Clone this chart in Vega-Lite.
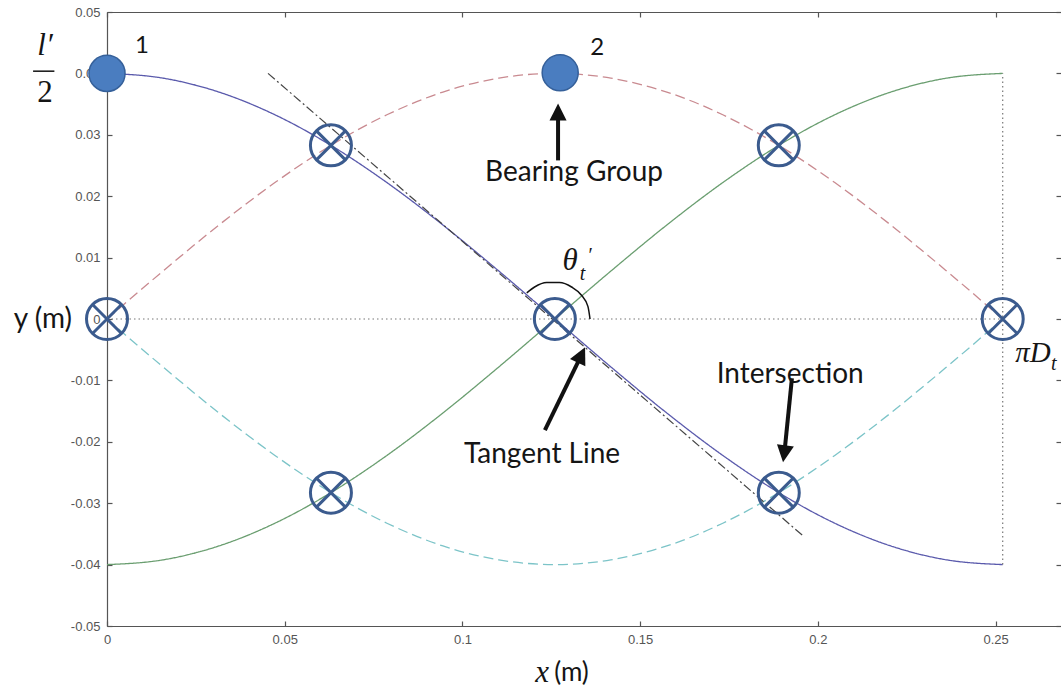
{
  "$schema": "https://vega.github.io/schema/vega-lite/v6.json",
  "autosize": {"type": "none"},
  "padding": {"left": 107, "top": 12, "right": 0, "bottom": 69},
  "width": 954,
  "height": 614,
  "background": "white",
  "config": {
    "view": {"stroke": null},
    "axis": {
      "grid": false, "domainColor": "#555", "domainWidth": 1.2, "tickColor": "#555", "tickWidth": 1.2,
      "tickSize": -5, "labelFont": "Liberation Sans", "labelFontSize": 13, "labelColor": "#555",
      "labelFlush": false, "labelOverlap": false
    }
  },
  "layer": [
    {
      "data": {"values": [
        {"s": "blue", "x": 0, "y": 0.04}, {"s": "blue", "x": 0.01575, "y": 0.03923}, {"s": "blue", "x": 0.0315, "y": 0.03696}, {"s": "blue", "x": 0.04725, "y": 0.03326}, {"s": "blue", "x": 0.063, "y": 0.02828}, {"s": "blue", "x": 0.07875, "y": 0.02222}, {"s": "blue", "x": 0.0945, "y": 0.01531}, {"s": "blue", "x": 0.11025, "y": 0.0078}, {"s": "blue", "x": 0.126, "y": 0}, {"s": "blue", "x": 0.14175, "y": -0.0078}, {"s": "blue", "x": 0.1575, "y": -0.01531}, {"s": "blue", "x": 0.17325, "y": -0.02222}, {"s": "blue", "x": 0.189, "y": -0.02828}, {"s": "blue", "x": 0.20475, "y": -0.03326}, {"s": "blue", "x": 0.2205, "y": -0.03696}, {"s": "blue", "x": 0.23625, "y": -0.03923}, {"s": "blue", "x": 0.252, "y": -0.04},
        {"s": "red", "x": 0, "y": 0}, {"s": "red", "x": 0.01575, "y": 0.0078}, {"s": "red", "x": 0.0315, "y": 0.01531}, {"s": "red", "x": 0.04725, "y": 0.02222}, {"s": "red", "x": 0.063, "y": 0.02828}, {"s": "red", "x": 0.07875, "y": 0.03326}, {"s": "red", "x": 0.0945, "y": 0.03696}, {"s": "red", "x": 0.11025, "y": 0.03923}, {"s": "red", "x": 0.126, "y": 0.04}, {"s": "red", "x": 0.14175, "y": 0.03923}, {"s": "red", "x": 0.1575, "y": 0.03696}, {"s": "red", "x": 0.17325, "y": 0.03326}, {"s": "red", "x": 0.189, "y": 0.02828}, {"s": "red", "x": 0.20475, "y": 0.02222}, {"s": "red", "x": 0.2205, "y": 0.01531}, {"s": "red", "x": 0.23625, "y": 0.0078}, {"s": "red", "x": 0.252, "y": 0},
        {"s": "green", "x": 0, "y": -0.04}, {"s": "green", "x": 0.01575, "y": -0.03923}, {"s": "green", "x": 0.0315, "y": -0.03696}, {"s": "green", "x": 0.04725, "y": -0.03326}, {"s": "green", "x": 0.063, "y": -0.02828}, {"s": "green", "x": 0.07875, "y": -0.02222}, {"s": "green", "x": 0.0945, "y": -0.01531}, {"s": "green", "x": 0.11025, "y": -0.0078}, {"s": "green", "x": 0.126, "y": 0}, {"s": "green", "x": 0.14175, "y": 0.0078}, {"s": "green", "x": 0.1575, "y": 0.01531}, {"s": "green", "x": 0.17325, "y": 0.02222}, {"s": "green", "x": 0.189, "y": 0.02828}, {"s": "green", "x": 0.20475, "y": 0.03326}, {"s": "green", "x": 0.2205, "y": 0.03696}, {"s": "green", "x": 0.23625, "y": 0.03923}, {"s": "green", "x": 0.252, "y": 0.04},
        {"s": "cyan", "x": 0, "y": 0}, {"s": "cyan", "x": 0.01575, "y": -0.0078}, {"s": "cyan", "x": 0.0315, "y": -0.01531}, {"s": "cyan", "x": 0.04725, "y": -0.02222}, {"s": "cyan", "x": 0.063, "y": -0.02828}, {"s": "cyan", "x": 0.07875, "y": -0.03326}, {"s": "cyan", "x": 0.0945, "y": -0.03696}, {"s": "cyan", "x": 0.11025, "y": -0.03923}, {"s": "cyan", "x": 0.126, "y": -0.04}, {"s": "cyan", "x": 0.14175, "y": -0.03923}, {"s": "cyan", "x": 0.1575, "y": -0.03696}, {"s": "cyan", "x": 0.17325, "y": -0.03326}, {"s": "cyan", "x": 0.189, "y": -0.02828}, {"s": "cyan", "x": 0.20475, "y": -0.02222}, {"s": "cyan", "x": 0.2205, "y": -0.01531}, {"s": "cyan", "x": 0.23625, "y": -0.0078}, {"s": "cyan", "x": 0.252, "y": 0}
      ]},
      "mark": {"type": "line", "interpolate": "monotone", "strokeWidth": 1.3},
      "encoding": {
        "x": {"field": "x", "type": "quantitative", "scale": {"domain": [0, 0.2684], "nice": false, "zero": false},
          "axis": {"orient": "bottom", "title": null, "values": [0, 0.05, 0.1, 0.15, 0.2, 0.25], "labelPadding": 12, "labelExpr": "format(datum.value, '.2~f')"}},
        "y": {"field": "y", "type": "quantitative", "scale": {"domain": [-0.05, 0.05], "nice": false, "zero": false},
          "axis": {"orient": "left", "title": null, "values": [-0.05, -0.04, -0.03, -0.02, -0.01, 0, 0.01, 0.02, 0.03, 0.04, 0.05], "labelPadding": 12,
            "labelExpr": "datum.value == 0 ? '0' : (datum.value < 0 ? '-' : '') + format(abs(datum.value), '.2f')"}},
        "color": {"field": "s", "type": "nominal", "legend": null, "scale": {"domain": ["blue", "red", "green", "cyan"], "range": ["#5a5aac", "#c98a90", "#6a9e70", "#7cc4c8"]}},
        "strokeDash": {"field": "s", "type": "nominal", "legend": null, "scale": {"domain": ["blue", "red", "green", "cyan"], "range": [[1, 0], [10, 5], [1, 0], [10, 5]]}}
      }
    },
    {
      "data": {"values": [
        {"x": 0, "y": 0, "x2": 0.252, "y2": 0},
        {"x": 0.252, "y": -0.04, "x2": 0.252, "y2": 0.04}
      ]},
      "mark": {"type": "rule", "color": "#777", "strokeWidth": 1.2, "strokeDash": [1.5, 3]},
      "encoding": {
        "x": {"field": "x", "type": "quantitative", "axis": {"orient": "top", "title": null, "labels": false, "values": [0, 0.05, 0.1, 0.15, 0.2, 0.25]}},
        "y": {"field": "y", "type": "quantitative", "axis": {"orient": "right", "title": null, "labels": false, "domain": false, "values": [-0.05, -0.04, -0.03, -0.02, -0.01, 0, 0.01, 0.02, 0.03, 0.04, 0.05]}},
        "x2": {"field": "x2"},
        "y2": {"field": "y2"}
      }
    },
    {
      "data": {"values": [{"x": 0.0453, "y": 0.04}, {"x": 0.1956, "y": -0.0352}]},
      "mark": {"type": "line", "color": "#444", "strokeWidth": 1.2, "strokeDash": [9, 3, 2, 3]},
      "encoding": {
        "x": {"field": "x", "type": "quantitative", "axis": null},
        "y": {"field": "y", "type": "quantitative", "axis": null}
      }
    },
    {
      "data": {"values": [
        {"x": 0.1359, "y": 0}, {"x": 0.1353, "y": 0.00206}, {"x": 0.1335, "y": 0.00387}, {"x": 0.1307, "y": 0.00521},
        {"x": 0.1273, "y": 0.00593}, {"x": 0.1237, "y": 0.00593}, {"x": 0.1203, "y": 0.00521}, {"x": 0.1181, "y": 0.00426}
      ]},
      "mark": {"type": "line", "color": "#111", "strokeWidth": 1.5, "interpolate": "monotone"},
      "encoding": {
        "x": {"field": "x", "type": "quantitative", "axis": null},
        "y": {"field": "y", "type": "quantitative", "axis": null}
      }
    },
    {
      "data": {"name": "cross", "values": [
        {"x": 0, "y": 0}, {"x": 0.063, "y": 0.02828}, {"x": 0.063, "y": -0.02828}, {"x": 0.126, "y": 0},
        {"x": 0.189, "y": 0.02828}, {"x": 0.189, "y": -0.02828}, {"x": 0.252, "y": 0}
      ]},
      "layer": [
        {
          "mark": {"type": "point", "shape": "circle", "size": 1681, "filled": false, "stroke": "#3b5b8e", "strokeWidth": 3, "opacity": 1},
          "encoding": {
            "x": {"field": "x", "type": "quantitative", "axis": null},
            "y": {"field": "y", "type": "quantitative", "axis": null}
          }
        },
        {
          "mark": {"type": "point", "shape": "M-0.707,-0.707L0.707,0.707M-0.707,0.707L0.707,-0.707", "size": 1681, "filled": false, "stroke": "#3b5b8e", "strokeWidth": 3, "opacity": 1},
          "encoding": {
            "x": {"field": "x", "type": "quantitative", "axis": null},
            "y": {"field": "y", "type": "quantitative", "axis": null}
          }
        }
      ]
    },
    {
      "data": {"values": [{"x": 0, "y": 0.04}, {"x": 0.1275, "y": 0.0401}]},
      "mark": {"type": "point", "shape": "circle", "size": 1300, "filled": true, "fill": "#4a7dc0", "stroke": "#35609a", "strokeWidth": 1.5, "opacity": 1},
      "encoding": {
        "x": {"field": "x", "type": "quantitative", "axis": null},
        "y": {"field": "y", "type": "quantitative", "axis": null}
      }
    },
    {
      "data": {"values": [
        {"x": 0.1269, "y": 0.02583, "x2": 0.1269, "y2": 0.03347, "tx": 0.1269, "ty": 0.0351, "dir": 0},
        {"x": 0.1232, "y": -0.01811, "x2": 0.1333, "y2": -0.00607, "tx": 0.1345, "ty": -0.00461, "dir": 25.7},
        {"x": 0.1927, "y": -0.00965, "x2": 0.1906, "y2": -0.02171, "tx": 0.1902, "ty": -0.02334, "dir": 188}
      ]},
      "layer": [
        {
          "mark": {"type": "rule", "color": "#111", "strokeWidth": 4},
          "encoding": {
            "x": {"field": "x", "type": "quantitative", "axis": null},
            "y": {"field": "y", "type": "quantitative", "axis": null},
            "x2": {"field": "x2"},
            "y2": {"field": "y2"}
          }
        },
        {
          "mark": {"type": "point", "shape": "M0,0L0.55,1.1L-0.55,1.1Z", "size": 961, "filled": true, "fill": "#111", "strokeWidth": 0, "opacity": 1},
          "encoding": {
            "x": {"field": "tx", "type": "quantitative", "axis": null},
            "y": {"field": "ty", "type": "quantitative", "axis": null},
            "angle": {"field": "dir", "type": "quantitative", "scale": null}
          }
        }
      ]
    },
    {
      "data": {"values": [{"x": -0.0208, "x2": -0.0148, "y": 0.04036}]},
      "mark": {"type": "rule", "color": "#222", "strokeWidth": 1.6},
      "encoding": {
        "x": {"field": "x", "type": "quantitative", "axis": null},
        "x2": {"field": "x2"},
        "y": {"field": "y", "type": "quantitative", "axis": null}
      }
    },
    {
      "data": {"values": [
        {"x": 0.1314, "y": 0.02384, "t": "Bearing Group"},
        {"x": 0.1224, "y": -0.0222, "t": "Tangent Line"},
        {"x": 0.1922, "y": -0.00916, "t": "Intersection"}
      ]},
      "mark": {"type": "text", "font": "Lato", "fontSize": 28, "color": "#151515", "align": "center", "baseline": "middle"},
      "encoding": {
        "x": {"field": "x", "type": "quantitative", "axis": null},
        "y": {"field": "y", "type": "quantitative", "axis": null},
        "text": {"field": "t"}
      }
    },
    {
      "data": {"values": [
        {"x": 0.00985, "y": 0.04454, "t": "1"},
        {"x": 0.1379, "y": 0.0442, "t": "2"}
      ]},
      "mark": {"type": "text", "font": "Lato", "fontSize": 24, "color": "#151515", "align": "center", "baseline": "middle"},
      "encoding": {
        "x": {"field": "x", "type": "quantitative", "axis": null},
        "y": {"field": "y", "type": "quantitative", "axis": null},
        "text": {"field": "t"}
      }
    },
    {
      "data": {"values": [{"x": -0.00985, "y": -0.0002, "t": "y (m)"}]},
      "mark": {"type": "text", "font": "Lato", "fontSize": 28, "color": "#151515", "align": "right", "baseline": "middle"},
      "encoding": {
        "x": {"field": "x", "type": "quantitative", "axis": null},
        "y": {"field": "y", "type": "quantitative", "axis": null},
        "text": {"field": "t"}
      }
    },
    {
      "data": {"values": [{"x": 0.1258, "y": -0.05766, "t": "(m)"}]},
      "mark": {"type": "text", "font": "Lato", "fontSize": 26, "color": "#151515", "align": "left", "baseline": "middle"},
      "encoding": {
        "x": {"field": "x", "type": "quantitative", "axis": null},
        "y": {"field": "y", "type": "quantitative", "axis": null},
        "text": {"field": "t"}
      }
    },
    {
      "data": {"values": [
        {"x": -0.01745, "y": 0.0445, "t": "l′"},
        {"x": 0.1224, "y": -0.05766, "t": "x"},
        {"x": 0.1303, "y": 0.0094, "t": "θ"}
      ]},
      "mark": {"type": "text", "font": "Liberation Serif", "fontStyle": "italic", "fontSize": 31, "color": "#151515", "align": "center", "baseline": "middle"},
      "encoding": {
        "x": {"field": "x", "type": "quantitative", "axis": null},
        "y": {"field": "y", "type": "quantitative", "axis": null},
        "text": {"field": "t"}
      }
    },
    {
      "data": {"values": [{"x": 0.2555, "y": -0.0056, "t": "πD"}]},
      "mark": {"type": "text", "font": "Liberation Serif", "fontStyle": "italic", "fontSize": 29, "color": "#151515", "align": "left", "baseline": "middle"},
      "encoding": {
        "x": {"field": "x", "type": "quantitative", "axis": null},
        "y": {"field": "y", "type": "quantitative", "axis": null},
        "text": {"field": "t"}
      }
    },
    {
      "data": {"values": [
        {"x": 0.1338, "y": 0.0074, "t": "t"},
        {"x": 0.2664, "y": -0.0074, "t": "t"},
        {"x": 0.1357, "y": 0.0102, "t": "′"}
      ]},
      "mark": {"type": "text", "font": "Liberation Serif", "fontStyle": "italic", "fontSize": 20, "color": "#151515", "align": "center", "baseline": "middle"},
      "encoding": {
        "x": {"field": "x", "type": "quantitative", "axis": null},
        "y": {"field": "y", "type": "quantitative", "axis": null},
        "text": {"field": "t"}
      }
    },
    {
      "data": {"values": [{"x": -0.01745, "y": 0.0368, "t": "2"}]},
      "mark": {"type": "text", "font": "Liberation Serif", "fontSize": 31, "color": "#151515", "align": "center", "baseline": "middle"},
      "encoding": {
        "x": {"field": "x", "type": "quantitative", "axis": null},
        "y": {"field": "y", "type": "quantitative", "axis": null},
        "text": {"field": "t"}
      }
    }
  ]
}
